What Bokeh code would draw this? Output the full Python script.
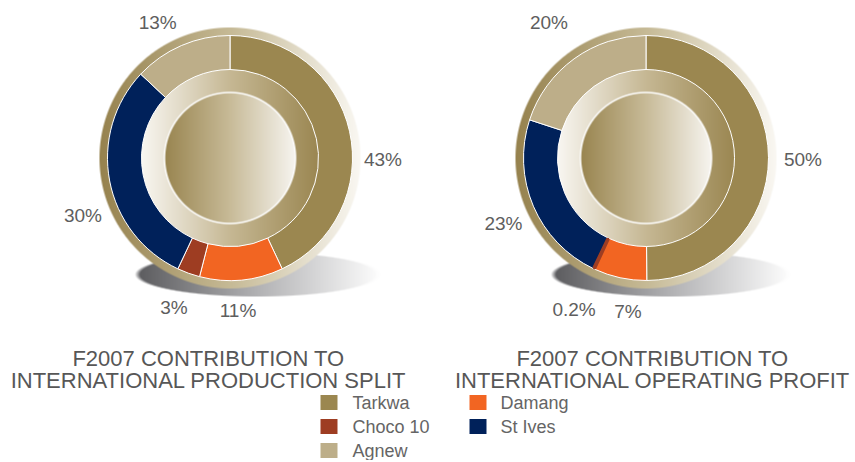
import numpy as np
from bokeh.plotting import figure
from bokeh.models import Range1d, ColumnDataSource
from bokeh.core.properties import value
from bokeh.embed import file_html
from bokeh.resources import INLINE

# ---------------- data ----------------
mines = ["Tarkwa", "Damang", "Choco 10", "St Ives", "Agnew"]
mine_colors = ["#9B8750", "#F26522", "#9E3D22", "#00215A", "#BDAE89"]
production = [43, 11, 3, 30, 13]
profit = [50, 7, 0.2, 23, 20]
title_prod = ["F2007 CONTRIBUTION TO", "INTERNATIONAL PRODUCTION SPLIT"]
title_profit = ["F2007 CONTRIBUTION TO", "INTERNATIONAL OPERATING PROFIT"]
legend_col1 = ["Tarkwa", "Choco 10", "Agnew"]
legend_col2 = ["Damang", "St Ives"]

# ---------------- layout ----------------
W, H = 850, 460
def Y(sy):
    return H - sy

charts = [
    dict(values=production, title=title_prod, cx=229.5, cy=157.5, title_x=208,
         label_off=[13, 2.4, 0.7, -10.7, -4.6], label_r=[153, 153, 160, 158, 154],
         shadow=(257, 274, 120, 22)),
    dict(values=profit, title=title_profit, cx=645.5, cy=157.5, title_x=652,
         label_off=[0.6, -5.5, 0.2, -1.6, 0.4], label_r=[157, 155, 168, 157, 167],
         shadow=(670, 274, 117, 22)),
]
R_OUT, R_W_OUT, R_W_IN, R_CORE = 130.5, 122.5, 88.5, 65.5

p = figure(width=W, height=H, x_range=Range1d(0, W), y_range=Range1d(0, H),
           output_backend="svg", toolbar_location=None, min_border=0)
p.axis.visible = False
p.grid.visible = False
p.outline_line_color = None
p.background_fill_color = "white"
p.border_fill_color = "white"

# ---------------- decorative gradient image ----------------
xs = np.arange(W) + 0.5
ys = H - (np.arange(H) + 0.5)   # screen y of each row (row 0 = bottom)
X, SY = np.meshgrid(xs, ys)
canvas = np.full((H, W, 3), 255.0)

def grad(x, x0, x1, stops):
    t = np.clip((x - x0) / (x1 - x0), 0, 1)
    ts = [s[0] for s in stops]
    return np.stack([np.interp(t, ts, [s[1][c] for s in stops]) for c in range(3)], axis=-1)

def over(col, a):
    global canvas
    canvas = canvas * (1 - a[..., None]) + col * a[..., None]

for c in charts:
    cx, cy = c["cx"], c["cy"]
    ex, ey, rx, ry = c["shadow"]
    q = np.sqrt(((X - ex) / rx) ** 2 + ((SY - ey) / ry) ** 2)
    a = np.clip((1 - q) * ry + 0.5, 0, 1)
    over(grad(X, ex - rx, ex + rx, [(0, (92, 92, 95)), (0.5, (178, 178, 180)), (1, (252, 252, 252))]), a)
    d = np.sqrt((X - cx) ** 2 + (SY - cy) ** 2)
    a = np.clip(R_OUT - d + 0.5, 0, 1)
    over(grad(X, cx - R_OUT, cx + R_OUT, [(0, (150, 130, 78)), (0.5, (198, 186, 150)), (1, (250, 248, 243))]), a)
    a = np.clip(R_W_IN + 1 - d + 0.5, 0, 1)
    over(grad(X, cx - R_W_IN, cx + R_W_IN, [(0, (249, 247, 242)), (0.5, (198, 184, 148)), (1, (155, 135, 82))]), a)
    a = np.clip(R_CORE - d + 0.5, 0, 1)
    over(grad(X, cx - R_CORE, cx + R_CORE, [(0, (153, 133, 80)), (0.5, (200, 187, 152)), (1, (247, 245, 240))]), a)
    a = np.clip(1.25 - np.abs(d - R_CORE), 0, 1)
    over(np.full((H, W, 3), 255.0), a)

rgba = np.empty((H, W, 4), dtype=np.uint8)
rgba[..., :3] = np.clip(canvas, 0, 255).astype(np.uint8)
rgba[..., 3] = 255
img = rgba.view(dtype=np.uint32).reshape((H, W))
p.image_rgba(image=[img], x=0, y=0, dw=W, dh=H)

# ---------------- donuts ----------------
for c in charts:
    vals = np.array(c["values"], dtype=float)
    total = vals.sum()
    cum = np.concatenate([[0], np.cumsum(vals)])
    starts = np.pi / 2 - 2 * np.pi * cum[:-1] / total
    ends = np.pi / 2 - 2 * np.pi * cum[1:] / total
    src = ColumnDataSource(dict(start=starts, end=ends, color=mine_colors))
    p.annular_wedge(x=c["cx"], y=Y(c["cy"]), inner_radius=R_W_IN, outer_radius=R_W_OUT,
                    start_angle="start", end_angle="end", direction="clock",
                    fill_color="color", line_color="white", line_width=1, source=src)
    # keep very thin slices visible (outline them in their own colour)
    thin = [i for i in range(len(vals)) if vals[i] / total < 0.01]
    if thin:
        tsrc = ColumnDataSource(dict(start=starts[thin], end=ends[thin],
                                     color=[mine_colors[i] for i in thin]))
        p.annular_wedge(x=c["cx"], y=Y(c["cy"]), inner_radius=R_W_IN + 1, outer_radius=R_W_OUT - 1,
                        start_angle="start", end_angle="end", direction="clock",
                        fill_color="color", line_color="color", line_width=2.5, source=tsrc)
    mids = 360 * (cum[:-1] + cum[1:]) / 2 / total + np.array(c["label_off"])
    th = np.radians(mids)
    r = np.array(c["label_r"])
    lx = c["cx"] + r * np.sin(th)
    ly = [Y(v) for v in c["cy"] - r * np.cos(th)]
    labels = [f"{v:g}%" for v in c["values"]]
    p.text(x=lx, y=ly, text=labels, text_font=value("Liberation Sans"), text_font_size="19px",
           text_color="#5E5E5E", text_align="center", text_baseline="middle")
    p.text(x=[c["title_x"]] * 2, y=[Y(358), Y(380)], text=c["title"],
           text_font=value("Liberation Sans"), text_font_size="22px",
           text_color="#575757", text_align="center", text_baseline="alphabetic")

# ---------------- legend ----------------
rows = [402, 426, 450]
for col_names, sq_x, tx in [(legend_col1, 328.5, 352), (legend_col2, 477.5, 500)]:
    ys_ = [Y(rows[i]) for i in range(len(col_names))]
    cols = [mine_colors[mines.index(n)] for n in col_names]
    p.rect(x=[sq_x] * len(col_names), y=ys_, width=17, height=15, fill_color=cols, line_color=None)
    p.text(x=[tx] * len(col_names), y=ys_, text=col_names, text_font=value("Liberation Sans"),
           text_font_size="18px", text_color="#656565", text_align="left", text_baseline="middle")

open("out.html", "w").write(file_html(p, INLINE))
